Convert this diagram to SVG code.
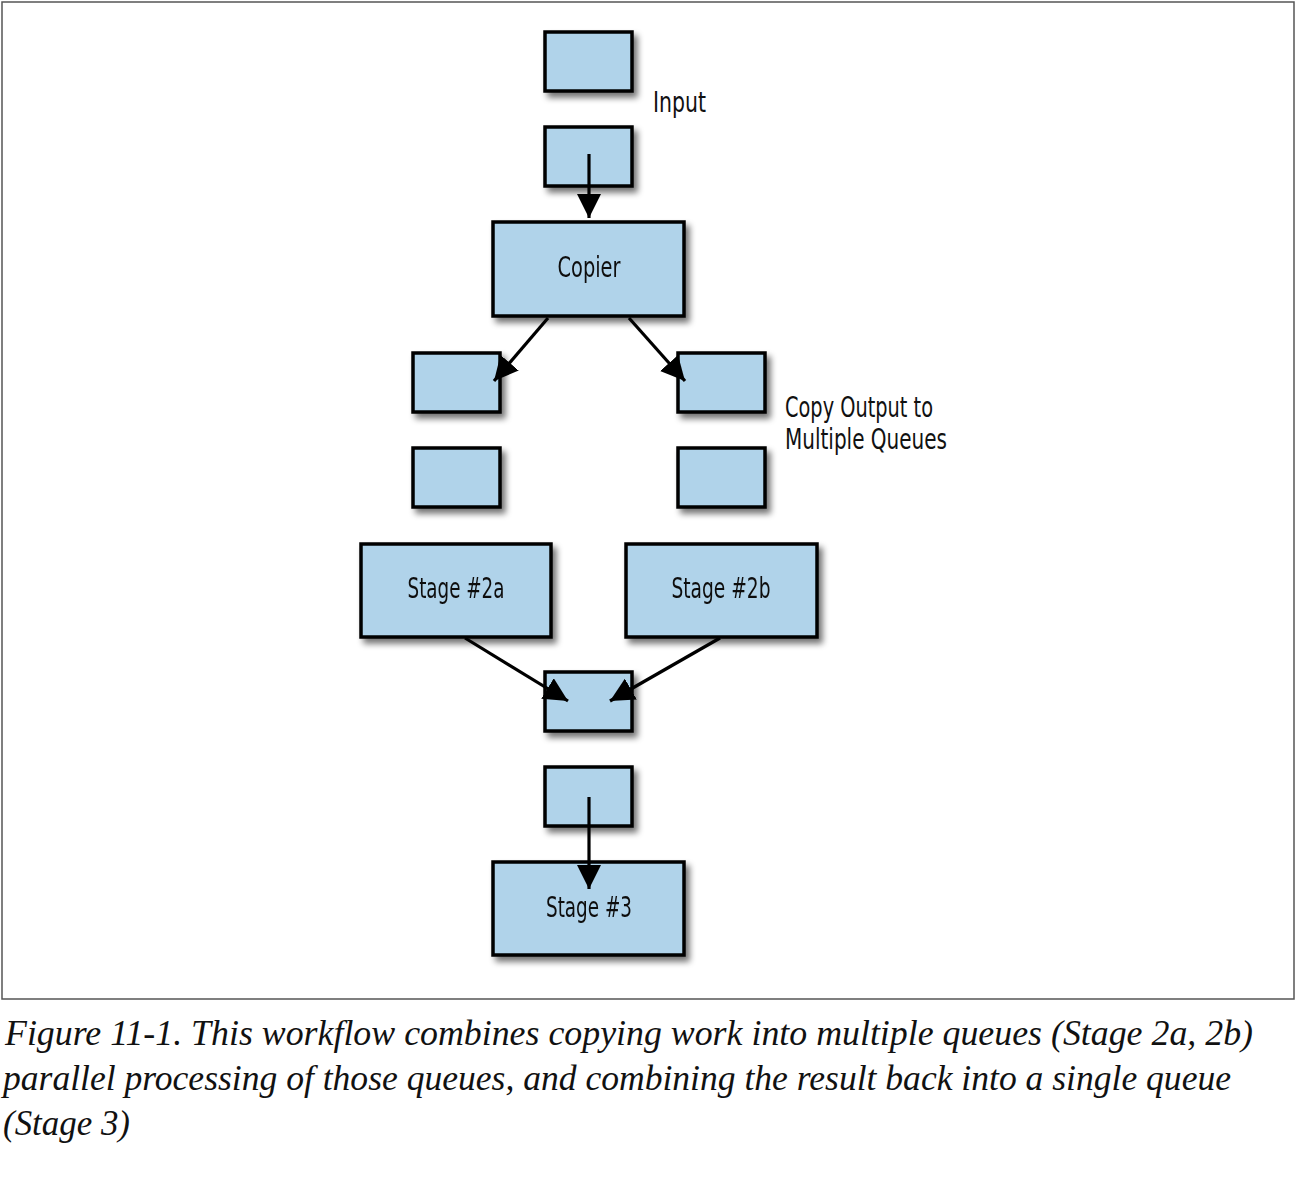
<svg xmlns="http://www.w3.org/2000/svg" width="1296" height="1178" viewBox="0 0 1296 1178">
<style>
.box{fill:#b0d3ea;stroke:#000;stroke-width:3.5}
.lbl{font-family:"DejaVu Sans Condensed","Liberation Sans",sans-serif;font-size:29px;fill:#111;text-anchor:middle}
.note{font-family:"DejaVu Sans Condensed","Liberation Sans",sans-serif;font-size:29px;fill:#111}
.cap{font-family:"Liberation Serif",serif;font-style:italic;font-size:36px;fill:#111}
.con{stroke:#000;stroke-width:3.2;fill:none;marker-end:url(#arr)}
</style>
<defs>
<filter id="sh" x="-20%" y="-20%" width="150%" height="150%">
<feGaussianBlur in="SourceAlpha" stdDeviation="3"/>
<feOffset dx="4" dy="5" result="b"/>
<feComponentTransfer><feFuncA type="linear" slope="0.55"/></feComponentTransfer>
<feMerge><feMergeNode/><feMergeNode in="SourceGraphic"/></feMerge>
</filter>
<marker id="arr" viewBox="0 0 10 10" refX="10" refY="5" markerWidth="7.5" markerHeight="7.5" markerUnits="strokeWidth" orient="auto">
<path d="M0,0 L10,5 L0,10 z" fill="#000"/>
</marker>
</defs>
<rect x="0" y="0" width="1296" height="1178" fill="#fff"/>
<rect x="2" y="2" width="1292" height="997" fill="none" stroke="#555" stroke-width="1.5"/>

<g id="input-q1" filter="url(#sh)"><rect class="box" x="545" y="32" width="87" height="59"/></g>
<g id="input-q2" filter="url(#sh)"><rect class="box" x="545" y="127" width="87" height="59"/></g>
<g id="copier" filter="url(#sh)"><rect class="box" x="493" y="222" width="191" height="94"/><text class="lbl" x="589" y="277" textLength="63" lengthAdjust="spacingAndGlyphs">Copier</text></g>
<g id="qa1" filter="url(#sh)"><rect class="box" x="413" y="353" width="87" height="59"/></g>
<g id="qa2" filter="url(#sh)"><rect class="box" x="413" y="448" width="87" height="59"/></g>
<g id="qb1" filter="url(#sh)"><rect class="box" x="678" y="353" width="87" height="59"/></g>
<g id="qb2" filter="url(#sh)"><rect class="box" x="678" y="448" width="87" height="59"/></g>
<g id="stage2a" filter="url(#sh)"><rect class="box" x="361" y="544" width="190" height="93"/><text class="lbl" x="456" y="598" textLength="97" lengthAdjust="spacingAndGlyphs">Stage #2a</text></g>
<g id="stage2b" filter="url(#sh)"><rect class="box" x="626" y="544" width="191" height="93"/><text class="lbl" x="721" y="598" textLength="99" lengthAdjust="spacingAndGlyphs">Stage #2b</text></g>
<g id="merge-q1" filter="url(#sh)"><rect class="box" x="545" y="672" width="87" height="59"/></g>
<g id="merge-q2" filter="url(#sh)"><rect class="box" x="545" y="767" width="87" height="59"/></g>
<g id="stage3" filter="url(#sh)"><rect class="box" x="493" y="862" width="191" height="93"/><text class="lbl" x="589" y="917" textLength="86" lengthAdjust="spacingAndGlyphs">Stage #3</text></g>

<g id="labels">
<text class="note" x="653" y="112" textLength="53" lengthAdjust="spacingAndGlyphs">Input</text>
<text class="note" x="785" y="417" textLength="148" lengthAdjust="spacingAndGlyphs">Copy Output to</text>
<text class="note" x="785" y="449" textLength="162" lengthAdjust="spacingAndGlyphs">Multiple Queues</text>
</g>

<g id="connectors">
<line class="con" x1="589" y1="154" x2="589" y2="218"/>
<line class="con" x1="548" y1="318" x2="494" y2="381"/>
<line class="con" x1="629" y1="318" x2="685" y2="381"/>
<line class="con" x1="465" y1="638" x2="568" y2="701"/>
<line class="con" x1="720" y1="638" x2="610" y2="701"/>
<line class="con" x1="589" y1="797" x2="589" y2="889"/>
</g>

<g id="caption">
<text class="cap" x="5" y="1045" textLength="1248" lengthAdjust="spacingAndGlyphs">Figure 11-1. This workflow combines copying work into multiple queues (Stage 2a, 2b)</text>
<text class="cap" x="3" y="1090" textLength="1228" lengthAdjust="spacingAndGlyphs">parallel processing of those queues, and combining the result back into a single queue</text>
<text class="cap" x="3" y="1135" textLength="127" lengthAdjust="spacingAndGlyphs">(Stage 3)</text>
</g>
</svg>
